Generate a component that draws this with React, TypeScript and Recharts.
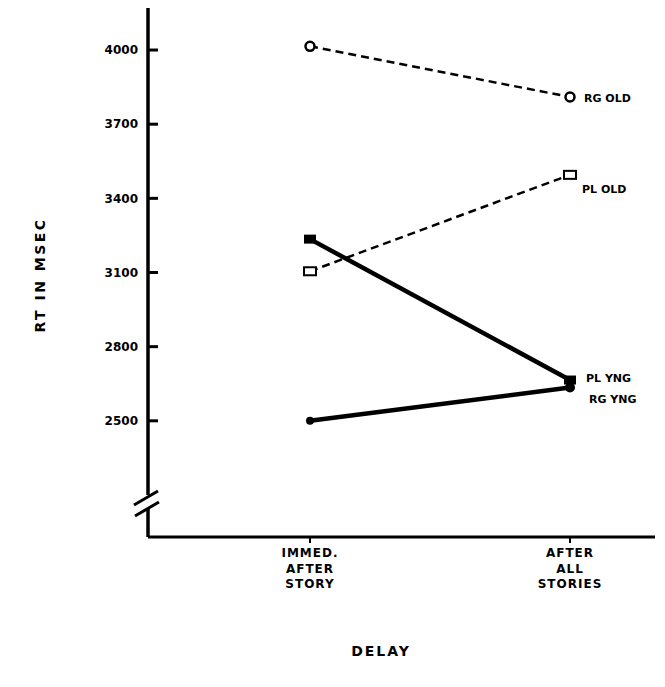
import React from 'react';
import { LineChart, Line, XAxis, YAxis } from 'recharts';

// reaction time by delay condition, four groups
const delays = ['immed', 'after'];
const delayLabels = [
  ['IMMED.', 'AFTER', 'STORY'],
  ['AFTER', 'ALL', 'STORIES'],
];
const rgOld = [4015, 3810];
const plOld = [3105, 3495];
const plYng = [3235, 2665];
const rgYng = [2500, 2635];
const yTicks = [2500, 2800, 3100, 3400, 3700, 4000];

const data = delays.map((d, i) => ({
  delay: d,
  rgOld: rgOld[i],
  plOld: plOld[i],
  plYng: plYng[i],
  rgYng: rgYng[i],
}));

const FONT = '"DejaVu Sans", Verdana, sans-serif';

const OpenCircle = (p: any) => (
  <circle cx={p.cx} cy={p.cy} r={4.5} fill="#fff" stroke="#000" strokeWidth={2.5} />
);
const OpenRect = (p: any) => (
  <rect x={p.cx - 6} y={p.cy - 4} width={12} height={8} fill="#fff" stroke="#000" strokeWidth={2} />
);
const FilledRect = (p: any) => (
  <rect x={p.cx - 6} y={p.cy - 4.5} width={12} height={9} fill="#000" />
);
const FilledCircle = (p: any) => (
  <circle cx={p.cx} cy={p.cy} r={p.index === 1 ? 5 : 4} fill="#000" />
);

const endLabel = (text: string, dx: number, dy: number) => (p: any) => {
  if (p.index !== 1) return null;
  return (
    <text
      x={p.x + dx}
      y={p.y + dy}
      fontFamily={FONT}
      fontWeight="bold"
      fontSize={11}
      fill="#000"
    >
      {text}
    </text>
  );
};

const XTick = (p: any) => {
  const lines = delayLabels[p.index] || [];
  return (
    <text
      x={p.x}
      y={p.y}
      textAnchor="middle"
      fontFamily={FONT}
      fontWeight="bold"
      fontSize={12}
      letterSpacing={1}
      fill="#000"
    >
      {lines.map((t, i) => (
        <tspan key={i} x={p.x} y={p.y + 10 + i * 15.5}>
          {t}
        </tspan>
      ))}
    </text>
  );
};

export default function App() {
  return (
    <div style={{ position: 'absolute', left: 0, top: 0, width: 665, height: 687, background: '#fff' }}>
      <LineChart
        width={665}
        height={687}
        data={data}
        margin={{ top: 8, right: 10, left: 88, bottom: 90 }}
      >
        <XAxis
          dataKey="delay"
          padding={{ left: 162, right: 85 }}
          axisLine={{ stroke: '#000', strokeWidth: 3 }}
          tickLine={{ stroke: '#000', strokeWidth: 2 }}
          tickSize={6}
          tickMargin={4}
          tick={<XTick />}
          height={60}
          interval={0}
        />
        {/* negative tickSize turns the tick marks inward */}
        <YAxis
          domain={[2030, 4170]}
          ticks={yTicks}
          axisLine={{ stroke: '#000', strokeWidth: 3.5 }}
          tickLine={{ stroke: '#000', strokeWidth: 3 }}
          tickSize={-10}
          tickMargin={20}
          tick={{ fill: '#000', fontFamily: FONT, fontWeight: 'bold', fontSize: 12 }}
          width={60}
          allowDataOverflow
        />
        <Line
          dataKey="rgOld"
          stroke="#000"
          strokeWidth={2.5}
          strokeDasharray="8 5"
          dot={<OpenCircle />}
          label={endLabel('RG OLD', 14, 5)}
          isAnimationActive={false}
        />
        <Line
          dataKey="plOld"
          stroke="#000"
          strokeWidth={2.5}
          strokeDasharray="8 5"
          dot={<OpenRect />}
          label={endLabel('PL OLD', 12, 18)}
          isAnimationActive={false}
        />
        <Line
          dataKey="plYng"
          stroke="#000"
          strokeWidth={4.5}
          dot={<FilledRect />}
          label={endLabel('PL YNG', 16, 2)}
          isAnimationActive={false}
        />
        <Line
          dataKey="rgYng"
          stroke="#000"
          strokeWidth={4.5}
          dot={<FilledCircle />}
          label={endLabel('RG YNG', 19, 16)}
          isAnimationActive={false}
        />
      </LineChart>
      <svg
        width={665}
        height={687}
        style={{ position: 'absolute', left: 0, top: 0, pointerEvents: 'none' }}
      >
        {/* break in the y axis */}
        <rect x={138} y={495} width={20} height={14} fill="#fff" />
        <line x1={134} y1={505} x2={158} y2={491} stroke="#000" strokeWidth={3} />
        <line x1={135} y1={516} x2={159} y2={502} stroke="#000" strokeWidth={3} />
        <text
          x={45}
          y={275}
          transform="rotate(-90 45 275)"
          textAnchor="middle"
          fontFamily={FONT}
          fontWeight="bold"
          fontSize={14}
          letterSpacing={2.5}
          fill="#000"
        >
          RT IN MSEC
        </text>
        <text
          x={381}
          y={656}
          textAnchor="middle"
          fontFamily={FONT}
          fontWeight="bold"
          fontSize={14}
          letterSpacing={2}
          fill="#000"
        >
          DELAY
        </text>
      </svg>
    </div>
  );
}
